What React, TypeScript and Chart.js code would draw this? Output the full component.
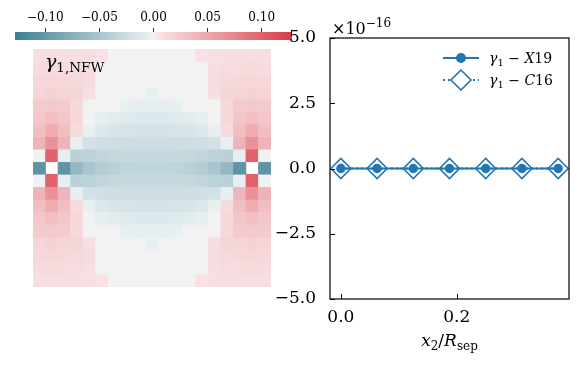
import React, { useEffect, useRef } from "react";
import { Chart, registerables } from "chart.js";

Chart.register(...registerables);

const FONT = "'DejaVu Serif', serif";
const BLUE = "#1f77b4";

// ---------- heat map (gamma_1, NFW) ----------
const heatColumns = [0, 1, 2, 3, 4, 5, 6, 7, 8, 9, 10, 11, 12, 13, 14, 15, 16, 17, 18];
const heatRows: (number | null)[][] = [
  [0.009, 0.009, 0.009, 0.009, 0.008, 0.007, 0, 0, 0, 0, 0, 0, 0, 0.007, 0.008, 0.009, 0.009, 0.009, 0.009],
  [0.011, 0.012, 0.011, 0.011, 0.009, 0, 0, 0, 0, 0, 0, 0, 0, 0, 0.009, 0.011, 0.011, 0.012, 0.011],
  [0.014, 0.015, 0.014, 0.013, 0.011, 0, 0, 0, 0, 0, 0, 0, 0, 0, 0.011, 0.013, 0.014, 0.015, 0.014],
  [0.017, 0.019, 0.017, 0.016, 0.009, 0, 0, 0, 0, -0.003, 0, 0, 0, 0, 0.009, 0.016, 0.017, 0.019, 0.017],
  [0.023, 0.025, 0.023, 0.014, 0, 0, 0, -0.004, -0.005, -0.005, -0.005, -0.004, 0, 0, 0, 0.014, 0.023, 0.025, 0.023],
  [0.027, 0.033, 0.027, 0.014, 0, -0.005, -0.008, -0.010, -0.011, -0.011, -0.011, -0.010, -0.008, -0.005, 0, 0.014, 0.027, 0.033, 0.027],
  [0.033, 0.045, 0.033, 0.012, -0.004, -0.012, -0.016, -0.017, -0.018, -0.018, -0.018, -0.017, -0.016, -0.012, -0.004, 0.012, 0.033, 0.045, 0.033],
  [0.04, 0.065, 0.04, -0.004, -0.02, -0.022, -0.023, -0.024, -0.024, -0.024, -0.024, -0.024, -0.023, -0.022, -0.02, -0.004, 0.04, 0.065, 0.04],
  [0, 0.1, -0.005, -0.037, -0.036, -0.033, -0.030, -0.029, -0.029, -0.029, -0.029, -0.029, -0.030, -0.033, -0.036, -0.037, -0.005, 0.1, 0],
  [-0.105, null, -0.105, -0.065, -0.05, -0.042, -0.037, -0.034, -0.033, -0.033, -0.033, -0.034, -0.037, -0.042, -0.05, -0.065, -0.105, null, -0.105],
  [0, 0.1, -0.005, -0.037, -0.036, -0.033, -0.030, -0.029, -0.029, -0.029, -0.029, -0.029, -0.030, -0.033, -0.036, -0.037, -0.005, 0.1, 0],
  [0.04, 0.065, 0.04, -0.004, -0.02, -0.022, -0.023, -0.024, -0.024, -0.024, -0.024, -0.024, -0.023, -0.022, -0.02, -0.004, 0.04, 0.065, 0.04],
  [0.033, 0.045, 0.033, 0.012, -0.004, -0.012, -0.016, -0.017, -0.018, -0.018, -0.018, -0.017, -0.016, -0.012, -0.004, 0.012, 0.033, 0.045, 0.033],
  [0.027, 0.033, 0.027, 0.014, 0, -0.005, -0.008, -0.010, -0.011, -0.011, -0.011, -0.010, -0.008, -0.005, 0, 0.014, 0.027, 0.033, 0.027],
  [0.023, 0.025, 0.023, 0.014, 0, 0, 0, -0.004, -0.005, -0.005, -0.005, -0.004, 0, 0, 0, 0.014, 0.023, 0.025, 0.023],
  [0.017, 0.019, 0.017, 0.016, 0.009, 0, 0, 0, 0, -0.003, 0, 0, 0, 0, 0.009, 0.016, 0.017, 0.019, 0.017],
  [0.014, 0.015, 0.014, 0.013, 0.011, 0, 0, 0, 0, 0, 0, 0, 0, 0, 0.011, 0.013, 0.014, 0.015, 0.014],
  [0.011, 0.012, 0.011, 0.011, 0.009, 0, 0, 0, 0, 0, 0, 0, 0, 0, 0.009, 0.011, 0.011, 0.012, 0.011],
  [0.009, 0.009, 0.009, 0.009, 0.008, 0.007, 0, 0, 0, 0, 0, 0, 0, 0.007, 0.008, 0.009, 0.009, 0.009, 0.009],
];
const colorbarMin = -0.128;
const colorbarMax = 0.128;
const colorbarTicks = [-0.1, -0.05, 0, 0.05, 0.1];

// ---------- right panel ----------
const xSep = [0, 0.0625, 0.125, 0.1875, 0.25, 0.3125, 0.375];
const gammaX19 = [0, 0, 0, 0, 0, 0, 0]; // units of 1e-16
const gammaC16 = [0, 0, 0, 0, 0, 0, 0]; // units of 1e-16
const yTicks = [-5, -2.5, 0, 2.5, 5];
const xTicks = [0, 0.2];
const xMin = -0.01875;
const xMax = 0.39375;

function fmt(v: number, d: number) {
  const s = Math.abs(v).toFixed(d);
  return v < -1e-12 ? "\u2212" + s : s;
}

function mix(a: number[], b: number[], t: number) {
  return a.map((x, i) => Math.round(x + (b[i] - x) * t));
}

function cmap(v: number | null): string {
  if (v === null || v === undefined) return "rgba(0,0,0,0)";
  if (Math.abs(v) < 0.0015) return "rgb(242,242,242)";
  const t = Math.min(1, Math.abs(v) / colorbarMax);
  const c = v < 0 ? mix([237, 243, 245], [63, 127, 147], t) : mix([249, 235, 237], [218, 59, 70], t);
  return `rgb(${c[0]},${c[1]},${c[2]})`;
}

const framePlugin = {
  id: "frameTicks",
  afterDatasetsDraw(chart: any) {
    const { ctx, chartArea: a, scales } = chart;
    ctx.save();
    ctx.strokeStyle = "#000";
    ctx.lineWidth = 1.2;
    ctx.strokeRect(a.left, a.top, a.right - a.left, a.bottom - a.top);
    ctx.lineWidth = 1;
    for (const t of scales.y.ticks) {
      const y = Math.round(scales.y.getPixelForValue(t.value)) + 0.5;
      ctx.beginPath();
      ctx.moveTo(a.left, y);
      ctx.lineTo(a.left + 5, y);
      ctx.stroke();
    }
    for (const t of scales.x.ticks) {
      const x = Math.round(scales.x.getPixelForValue(t.value)) + 0.5;
      ctx.beginPath();
      ctx.moveTo(x, a.bottom);
      ctx.lineTo(x, a.bottom - 5);
      ctx.stroke();
    }
    ctx.restore();
  },
};

export default function App() {
  const cbRef = useRef<HTMLCanvasElement>(null);
  const heatRef = useRef<HTMLCanvasElement>(null);
  const lineRef = useRef<HTMLCanvasElement>(null);

  useEffect(() => {
    const charts: Chart[] = [];

    // colorbar
    charts.push(
      new Chart(cbRef.current!, {
        type: "bar",
        data: {
          labels: ["cb"],
          datasets: [
            {
              data: [[colorbarMin, colorbarMax]] as any,
              backgroundColor: (ctx: any) => {
                const area = ctx.chart.chartArea;
                if (!area) return "#f2f2f2";
                const g = ctx.chart.ctx.createLinearGradient(area.left, 0, area.right, 0);
                const n = 80;
                for (let i = 0; i <= n; i++) {
                  const v = colorbarMin + ((colorbarMax - colorbarMin) * i) / n;
                  g.addColorStop(i / n, cmap(v));
                }
                return g;
              },
              borderWidth: 0,
              barPercentage: 1,
              categoryPercentage: 1,
            },
          ],
        },
        options: {
          indexAxis: "y",
          responsive: false,
          animation: false,
          events: [],
          layout: { padding: { top: 0, bottom: 1, left: 0, right: 0 } },
          plugins: { legend: { display: false }, tooltip: { enabled: false } },
          scales: {
            x: {
              type: "linear",
              position: "top",
              min: colorbarMin,
              max: colorbarMax,
              afterBuildTicks: (s: any) => {
                s.ticks = colorbarTicks.map((v) => ({ value: v }));
              },
              afterFit: (s: any) => {
                s.height = 32;
              },
              ticks: {
                callback: (v: any) => fmt(Number(v), 2),
                font: { family: FONT, size: 12 },
                color: "#000",
                padding: 3,
                maxRotation: 0,
              },
              grid: { drawOnChartArea: false, drawTicks: true, tickLength: 4, color: "#333" },
              border: { display: false },
            },
            y: { display: false },
          },
        } as any,
      })
    );

    // heat map
    charts.push(
      new Chart(heatRef.current!, {
        type: "bar",
        data: {
          labels: heatColumns.map(String),
          datasets: heatRows.map((row, r) => ({
            data: heatColumns.map(() => [r, r + 1]) as any,
            backgroundColor: row.map(cmap),
            borderWidth: 0,
            barPercentage: 1,
            categoryPercentage: 1,
            grouped: false,
          })),
        },
        options: {
          responsive: false,
          animation: false,
          events: [],
          layout: { padding: 0 },
          plugins: { legend: { display: false }, tooltip: { enabled: false } },
          scales: {
            x: { display: false, offset: true },
            y: { display: false, min: 0, max: heatRows.length, reverse: true },
          },
        } as any,
      })
    );

    // line chart
    charts.push(
      new Chart(lineRef.current!, {
        type: "line",
        data: {
          datasets: [
            {
              label: "γ1 − X19",
              data: xSep.map((x, i) => ({ x, y: gammaX19[i] })),
              borderColor: BLUE,
              borderWidth: 2,
              pointStyle: "circle",
              pointRadius: 4.7,
              pointBackgroundColor: BLUE,
              pointBorderColor: BLUE,
              pointBorderWidth: 0,
            },
            {
              label: "γ1 − C16",
              data: xSep.map((x, i) => ({ x, y: gammaC16[i] })),
              borderColor: BLUE,
              borderWidth: 2,
              borderDash: [2, 3],
              pointStyle: "rectRot",
              pointRadius: 10,
              pointBackgroundColor: "rgba(0,0,0,0)",
              pointBorderColor: BLUE,
              pointBorderWidth: 1.6,
            },
          ],
        },
        options: {
          responsive: false,
          animation: false,
          events: [],
          layout: { padding: { top: 38, right: 13, left: 0, bottom: 0 } },
          plugins: { legend: { display: false }, tooltip: { enabled: false } },
          scales: {
            x: {
              type: "linear",
              min: xMin,
              max: xMax,
              afterBuildTicks: (s: any) => {
                s.ticks = xTicks.map((v) => ({ value: v }));
              },
              afterFit: (s: any) => {
                s.height = 66;
              },
              ticks: {
                callback: (v: any) => fmt(Number(v), 1),
                font: { family: FONT, size: 17 },
                color: "#000",
                padding: 0,
                maxRotation: 0,
              },
              grid: { display: false },
              border: { display: false },
            },
            y: {
              type: "linear",
              min: -5,
              max: 5,
              afterBuildTicks: (s: any) => {
                s.ticks = yTicks.map((v) => ({ value: v }));
              },
              afterFit: (s: any) => {
                s.width = 60;
              },
              ticks: {
                callback: (v: any) => fmt(Number(v), 1),
                font: { family: FONT, size: 17 },
                color: "#000",
                padding: 6,
              },
              grid: { display: false },
              border: { display: false },
            },
          },
        } as any,
        plugins: [framePlugin],
      })
    );

    return () => charts.forEach((c) => c.destroy());
  }, []);

  const abs = (l: number, t: number, extra: React.CSSProperties = {}): React.CSSProperties => ({
    position: "absolute",
    left: l,
    top: t,
    ...extra,
  });
  const txt: React.CSSProperties = { fontFamily: FONT, color: "#000", whiteSpace: "nowrap", lineHeight: 1 };

  return (
    <div style={{ position: "absolute", left: 0, top: 0, width: 582, height: 365, background: "#fff" }}>
      <canvas ref={cbRef} width={277} height={41} style={abs(15, 0)} />
      <canvas ref={heatRef} width={238} height={238} style={abs(33, 49)} />
      <canvas ref={lineRef} width={312} height={365} style={abs(270, 0)} />

      {/* heat map label */}
      <div style={abs(45, 52, { ...txt, fontSize: 19 })}>
        <i>γ</i>
        <span style={{ fontSize: 13.5, position: "relative", top: 4 }}>1,NFW</span>
      </div>

      {/* offset text */}
      <div style={abs(332, 21, { ...txt, fontSize: 16 })}>
        ×10
        <span style={{ fontSize: 12, position: "relative", top: -7 }}>−16</span>
      </div>

      {/* legend */}
      <svg style={abs(443, 47)} width={36} height={22}>
        <line x1={0} y1={11} x2={36} y2={11} stroke={BLUE} strokeWidth={2} />
        <circle cx={18} cy={11} r={5} fill={BLUE} />
      </svg>
      <div style={abs(489, 51, { ...txt, fontSize: 14 })}>
        <i>γ</i>
        <span style={{ fontSize: 10, position: "relative", top: 3 }}>1</span> − <i>X</i>19
      </div>
      <svg style={abs(443, 69)} width={36} height={22}>
        <line x1={0} y1={11} x2={36} y2={11} stroke={BLUE} strokeWidth={2} strokeDasharray="2 3" />
        <path d="M18 1 L28 11 L18 21 L8 11 Z" fill="#fff" stroke={BLUE} strokeWidth={1.6} />
      </svg>
      <div style={abs(489, 73, { ...txt, fontSize: 14 })}>
        <i>γ</i>
        <span style={{ fontSize: 10, position: "relative", top: 3 }}>1</span> − <i>C</i>16
      </div>

      {/* x axis title */}
      <div style={abs(330, 332, { ...txt, fontSize: 17, width: 239, textAlign: "center" })}>
        <i>x</i>
        <span style={{ fontSize: 12, position: "relative", top: 4 }}>2</span>/<i>R</i>
        <span style={{ fontSize: 12, position: "relative", top: 4 }}>sep</span>
      </div>
    </div>
  );
}
